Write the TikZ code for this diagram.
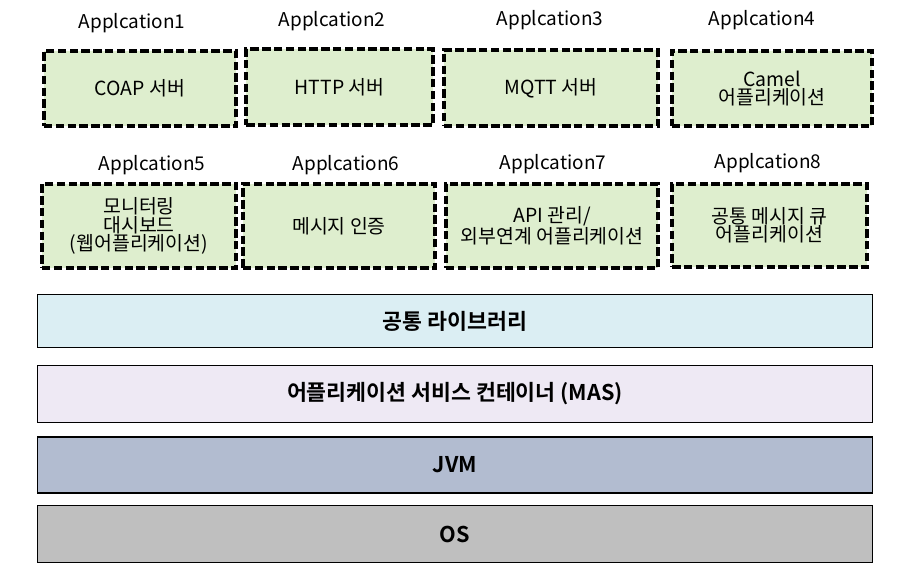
\documentclass[tikz,border=0pt]{standalone}
\usepackage{fontspec}
\usepackage{tikz}
\setmainfont{Noto Sans CJK KR}
\newfontfamily\krbold{Noto Sans CJK KR Bold}

\definecolor{appgreen}{RGB}{222,238,206}
\definecolor{libcyan}{RGB}{219,238,243}
\definecolor{maslilac}{RGB}{238,233,244}
\definecolor{jvmblue}{RGB}{178,188,208}
\definecolor{osgray}{RGB}{191,191,191}

\begin{document}
\begin{tikzpicture}[x=0.025cm, y=-0.025cm,
  apptitle/.style={font=\fontsize{13.5}{13}\selectfont},
  appbox/.style={draw=black, fill=appgreen, line width=2.6pt, dash pattern=on 6pt off 2.4pt,
    align=center, font=\fontsize{13.8}{13}\selectfont, inner sep=0pt},
  layerbox/.style={draw=black, line width=0.9pt, minimum width=20.875cm,
    font=\krbold\fontsize{15.4}{16}\selectfont}]

\useasboundingbox (0,0) rectangle (908,584);

\node [apptitle] (app_1) at (132,23) {Applcation1};
\node [apptitle] (app_2) at (332,21) {Applcation2};
\node [apptitle] (app_3) at (550,20) {Applcation3};
\node [apptitle] (app_4) at (762,20) {Applcation4};

\node [appbox, minimum width=4.8cm, minimum height=1.88cm] (coap) at (140,88.5) {COAP 서버};
\node [appbox, minimum width=4.67cm, minimum height=1.9cm] (http) at (339.5,87) {HTTP 서버};
\node [appbox, minimum width=5.35cm, minimum height=1.9cm] (mqtt) at (551,88) {MQTT 서버};
\node [appbox, minimum width=5cm, minimum height=1.88cm] (camel) at (772,88.5) {Camel\\어플리케이션};


\node [apptitle] (app_5) at (152,165) {Applcation5};
\node [apptitle] (app_6) at (346,165) {Applcation6};
\node [apptitle] (app_7) at (553,164) {Applcation7};
\node [apptitle] (app_8) at (768,163) {Applcation8};

\node [appbox, minimum width=4.85cm, minimum height=2.1cm] (monitor) at (139,226) {모니터링\\대시보드\\(웹어플리케이션)};
\node [appbox, minimum width=4.8cm, minimum height=2.1cm] (auth) at (339,226) {메시지 인증};
\node [appbox, minimum width=5.3cm, minimum height=2.1cm] (api) at (552,226) {API 관리/\\외부연계 어플리케이션};
\node [appbox, minimum width=4.87cm, minimum height=2.08cm] (queue) at (769.5,225.5) {공통 메시지 큐\\어플리케이션};


\node [layerbox, fill=libcyan, minimum height=1.325cm] (lib) at (455,321) {공통 라이브러리};
\node [layerbox, fill=maslilac, minimum height=1.425cm] (mas) at (455,394) {어플리케이션 서비스 컨테이너 (MAS)};
\node [layerbox, fill=jvmblue, minimum height=1.4cm] (jvm) at (455,465) {JVM};
\node [layerbox, fill=osgray, minimum height=1.425cm] (os) at (455,534) {OS};

\end{tikzpicture}
\end{document}
